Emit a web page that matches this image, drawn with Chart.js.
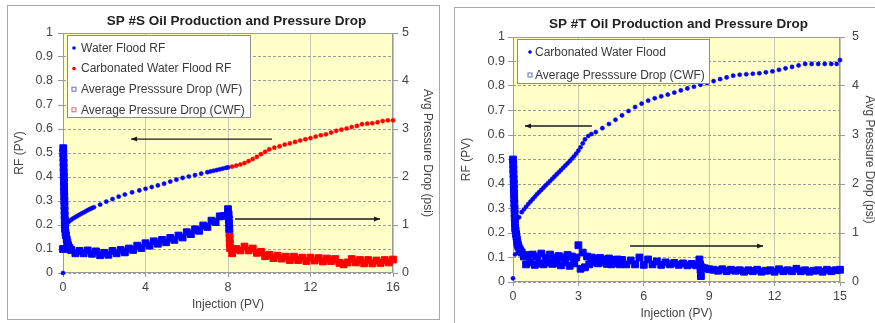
<!DOCTYPE html>
<html>
<head>
<meta charset="utf-8">
<script src="https://cdn.jsdelivr.net/npm/chart.js@4.4.1/dist/chart.umd.min.js"></script>
<style>
  body { margin: 0; background: #fff; width: 875px; height: 323px; overflow: hidden; position: relative; }
  .frame { position: absolute; border: 1px solid #a8a8a8; background: #fff; }
  #frameS { left: 7px; top: 5px; width: 431px; height: 313px; }
  #frameT { left: 454px; top: 7px; width: 430px; height: 317px; }
  canvas { display: block; }
</style>
</head>
<body>
<div class="frame" id="frameS"><canvas id="chartS" width="431" height="312"></canvas></div>
<div class="frame" id="frameT"><canvas id="chartT" width="426" height="317"></canvas></div>
<script>
// ---- SP #S ----
const wfRfX = [0, 0.1, 0.2, 0.3, 0.4, 0.5, 0.6, 0.7, 0.8, 0.9, 1.0, 1.1, 1.2, 1.3, 1.4, 1.5,
  1.8, 2.1, 2.4, 2.7, 3.0, 3.35, 3.7, 4.0, 4.3, 4.6, 4.9, 5.2, 5.5, 5.8, 6.1, 6.4, 6.7, 7.0,
  7.15, 7.3, 7.45, 7.6, 7.75, 7.9, 8.0];
const wfRfY = [0, 0.1, 0.207, 0.215, 0.222, 0.228, 0.233, 0.238, 0.243, 0.248, 0.252, 0.257, 0.262, 0.266, 0.270, 0.274,
  0.285, 0.297, 0.308, 0.318, 0.327, 0.336, 0.344, 0.351, 0.358, 0.365, 0.372, 0.381, 0.389, 0.396, 0.402, 0.408, 0.414, 0.42,
  0.423, 0.426, 0.429, 0.432, 0.435, 0.438, 0.44];

const cwfRfX = [8.2, 8.4, 8.6, 8.8, 9.0, 9.2, 9.4, 9.6, 9.8, 10.0, 10.25, 10.5, 10.75, 11.0, 11.25, 11.5, 11.75,
  12.0, 12.25, 12.5, 12.75, 13.0, 13.25, 13.5, 13.75, 14.0, 14.25, 14.5, 14.75, 15.0, 15.25, 15.5, 15.75, 16.0];
const cwfRfY = [0.443, 0.447, 0.452, 0.458, 0.466, 0.475, 0.484, 0.495, 0.505, 0.515, 0.522, 0.528, 0.535, 0.54, 0.546, 0.552, 0.557,
  0.562, 0.568, 0.574, 0.578, 0.585, 0.592, 0.597, 0.602, 0.608, 0.613, 0.62, 0.622, 0.624, 0.628, 0.633, 0.636, 0.636];

// pressure drop in psi (right axis)
const wfDpX = [0, 0.01, 0.015, 0.02, 0.025, 0.03, 0.035, 0.04, 0.045, 0.05, 0.055, 0.06, 0.065, 0.07, 0.075, 0.08, 0.085, 0.09,
  0.1, 0.12, 0.15, 0.18, 0.21, 0.25, 0.3, 0.35,
  0.4, 0.6, 0.8, 1.0, 1.2, 1.4, 1.6, 1.8, 2.0, 2.2, 2.4, 2.6, 2.8, 3.0, 3.2, 3.4, 3.6, 3.8, 4.0, 4.2,
  4.4, 4.6, 4.8, 5.0, 5.2, 5.4, 5.6, 5.8, 6.0, 6.2, 6.4, 6.6, 6.8, 7.0, 7.2, 7.4, 7.6, 7.8, 8.0,
  8.03, 8.04, 8.05, 8.06];
const wfDpY = [0.5, 2.6, 2.5, 2.4, 2.3, 2.2, 2.1, 2.0, 1.9, 1.8, 1.7, 1.6, 1.5, 1.4, 1.3, 1.2, 1.1, 1.0,
  0.92, 0.84, 0.78, 0.7, 0.64, 0.58, 0.53, 0.49,
  0.48, 0.41, 0.46, 0.41, 0.47, 0.40, 0.45, 0.37, 0.42, 0.38, 0.46, 0.41, 0.48, 0.43, 0.51, 0.48, 0.57, 0.52, 0.62, 0.57,
  0.66, 0.61, 0.69, 0.64, 0.73, 0.69, 0.78, 0.74, 0.85, 0.81, 0.91, 0.88, 0.99, 0.96, 1.09, 1.06, 1.18, 1.19, 1.33,
  1.22, 1.12, 1.02, 0.92];

const cwfDpX = [8.07, 8.08, 8.09, 8.1,
  8.2, 8.4, 8.6, 8.8, 9.0, 9.2, 9.4, 9.6, 9.8, 10.0, 10.2, 10.4, 10.6, 10.8, 11.0, 11.2, 11.4, 11.6, 11.8, 12.0,
  12.2, 12.4, 12.6, 12.8, 13.0, 13.2, 13.4, 13.6, 13.8, 14.0, 14.2, 14.4, 14.6, 14.8, 15.0, 15.2, 15.4, 15.6, 15.8, 16.0];
const cwfDpY = [0.82, 0.72, 0.62, 0.52,
  0.41, 0.5, 0.47, 0.55, 0.47, 0.51, 0.42, 0.44, 0.35, 0.38, 0.31, 0.36, 0.3, 0.34, 0.27, 0.34, 0.27, 0.32, 0.25, 0.32,
  0.26, 0.31, 0.24, 0.3, 0.25, 0.29, 0.21, 0.18, 0.22, 0.29, 0.22, 0.27, 0.2, 0.27, 0.2, 0.26, 0.21, 0.27, 0.22, 0.28];

// ---- SP #T ----
const tRfX = [0, 0.1, 0.28,
  0.4, 0.5, 0.6, 0.7, 0.8, 0.9, 1.0, 1.1, 1.2, 1.3, 1.4, 1.5, 1.6, 1.7, 1.8, 1.9, 2.0, 2.1, 2.2, 2.3, 2.4, 2.5,
  2.6, 2.7, 2.8, 2.9, 3.0, 3.1, 3.2, 3.3,
  3.45, 3.6, 3.8, 4.1, 4.4, 4.7, 5.0, 5.3, 5.6, 5.9, 6.2, 6.5, 6.8, 7.1, 7.4, 7.7, 8.0, 8.3, 8.6, 8.9, 9.2, 9.5,
  9.8, 10.1, 10.4, 10.7, 11.0, 11.3, 11.6, 11.9, 12.2, 12.5, 12.8, 13.1, 13.4, 13.7, 14.0, 14.3, 14.6, 14.85, 15.0];
const tRfY = [0.015, 0.113, 0.264,
  0.285, 0.296, 0.307, 0.318, 0.328, 0.338, 0.348, 0.358, 0.367, 0.376, 0.385, 0.394, 0.403, 0.412, 0.421, 0.43, 0.439, 0.448, 0.457, 0.466, 0.475, 0.484,
  0.493, 0.503, 0.513, 0.524, 0.536, 0.55, 0.566, 0.582,
  0.596, 0.604, 0.612, 0.628, 0.645, 0.662, 0.68, 0.698, 0.714, 0.728, 0.74, 0.75, 0.758, 0.765, 0.773, 0.782, 0.79, 0.797, 0.805, 0.812, 0.82, 0.828,
  0.835, 0.842, 0.846, 0.848, 0.85, 0.852, 0.856, 0.86, 0.866, 0.872, 0.878, 0.884, 0.89, 0.89, 0.89, 0.89, 0.89, 0.89, 0.906];

const tDpX = [0, 0.01, 0.015, 0.02, 0.03, 0.035, 0.04, 0.05, 0.055, 0.06, 0.07, 0.075, 0.08, 0.09, 0.1, 0.12,
  0.14, 0.16, 0.18, 0.2, 0.22, 0.25, 0.3, 0.35,
  0.4, 0.5, 0.6, 0.7, 0.8, 0.9, 1.0, 1.1, 1.2, 1.3,
  1.4, 1.5, 1.6, 1.7, 1.8, 1.9, 2.0, 2.1, 2.2, 2.3,
  2.4, 2.5, 2.6, 2.7, 2.8, 2.9, 3.0, 3.1, 3.2, 3.3,
  3.4, 3.5, 3.6, 3.7, 3.8, 3.9, 4.0, 4.1, 4.2, 4.3,
  4.4, 4.5, 4.6, 4.7, 4.8, 4.9, 5.0,
  5.2, 5.4, 5.6, 5.8, 6.0, 6.2, 6.4, 6.6, 6.8, 7.0, 7.2, 7.4, 7.6, 7.8, 8.0, 8.2, 8.4,
  8.55, 8.58, 8.6, 8.62, 8.65,
  8.8, 9.0, 9.2, 9.4, 9.6, 9.8, 10.0, 10.2, 10.4, 10.6, 10.8, 11.0, 11.2, 11.4, 11.6, 11.8,
  12.0, 12.2, 12.4, 12.6, 12.8, 13.0, 13.2, 13.4, 13.6, 13.8, 14.0, 14.2, 14.4, 14.6, 14.8, 15.0];
const tDpY = [2.5, 2.4, 2.3, 2.2, 2.1, 2.0, 1.9, 1.8, 1.7, 1.6, 1.5, 1.4, 1.3, 1.2, 1.1, 1.05,
  0.98, 0.92, 0.86, 0.8, 0.76, 0.72, 0.67, 0.63,
  0.6, 0.52, 0.36, 0.55, 0.4, 0.56, 0.35, 0.52, 0.38, 0.58,
  0.36, 0.5, 0.4, 0.56, 0.37, 0.5, 0.38, 0.53, 0.34, 0.5,
  0.4, 0.55, 0.33, 0.52, 0.38, 0.5, 0.75, 0.27, 0.6, 0.3,
  0.52, 0.36, 0.5, 0.4, 0.48, 0.38, 0.49, 0.4, 0.46, 0.37,
  0.48, 0.36, 0.45, 0.38, 0.46, 0.36, 0.45,
  0.36, 0.44, 0.36, 0.5, 0.35, 0.46, 0.36, 0.42, 0.35, 0.4, 0.36, 0.39, 0.35, 0.38, 0.34, 0.37, 0.34,
  0.46, 0.36, 0.25, 0.12, 0.3,
  0.28, 0.26, 0.25, 0.23, 0.26, 0.22, 0.25, 0.23, 0.24, 0.21, 0.24, 0.22, 0.25, 0.21, 0.23, 0.24,
  0.21, 0.26, 0.22, 0.24, 0.22, 0.27, 0.22, 0.24, 0.21, 0.23, 0.24, 0.21, 0.25, 0.22, 0.24, 0.25];

// arrows, in data units (x, RF)
const arrowsS = [[10.13, 0.558, 3.3, 0.558], [8.34, 0.225, 15.37, 0.225]];
const arrowsT = [[3.62, 0.637, 0.55, 0.637], [5.37, 0.147, 11.47, 0.147]];

const FONT = '"Liberation Sans", Arial, sans-serif';
const TXT = '#444';
const BLUE = '#0000ff';
const RED = '#ff0000';

function pts(xs, ys) {
  return xs.map((x, i) => ({ x: x, y: ys[i] }));
}

function dots(label, data, color) {
  return { label, data, yAxisID: 'y', showLine: false, clip: false,
    pointStyle: 'circle', pointRadius: 2.1, pointBorderWidth: 0.5,
    pointBackgroundColor: color, pointBorderColor: color };
}

function squares(label, data, color) {
  return { label, data, yAxisID: 'y2', showLine: false, clip: false,
    pointStyle: 'rect', pointRadius: 4.8, pointBorderWidth: 1,
    pointBackgroundColor: color, pointBorderColor: color };
}

function decor(cfg) {
  return {
    id: 'decor',
    beforeDraw(chart) {
      const { ctx, chartArea: a } = chart;
      ctx.save();
      ctx.fillStyle = '#FFFFC8';
      ctx.fillRect(a.left, a.top, a.right - a.left, a.bottom - a.top);
      ctx.restore();
    },
    beforeDatasetsDraw(chart) {
      const { ctx, chartArea: a } = chart;
      ctx.save();
      ctx.strokeStyle = '#9a9a9a';
      ctx.lineWidth = 1;
      ctx.strokeRect(a.left + 0.5, a.top + 0.5, a.right - a.left - 1, a.bottom - a.top - 1);
      ctx.restore();
    },
    afterDraw(chart) {
      const { ctx, chartArea: a, scales } = chart;
      ctx.save();
      // title
      ctx.fillStyle = '#222';
      ctx.font = 'bold 13.5px ' + FONT;
      ctx.textAlign = 'center';
      ctx.textBaseline = 'middle';
      ctx.fillText(cfg.title, cfg.titleX, cfg.titleY);

      // arrows
      ctx.strokeStyle = '#1a1a1a';
      ctx.fillStyle = '#1a1a1a';
      ctx.lineWidth = 1.4;
      cfg.arrows.forEach(([x1, y1, x2, y2]) => {
        const px1 = scales.x.getPixelForValue(x1), py1 = scales.y.getPixelForValue(y1);
        const px2 = scales.x.getPixelForValue(x2), py2 = scales.y.getPixelForValue(y2);
        const ang = Math.atan2(py2 - py1, px2 - px1);
        ctx.beginPath();
        ctx.moveTo(px1, py1);
        ctx.lineTo(px2, py2);
        ctx.stroke();
        ctx.beginPath();
        ctx.moveTo(px2, py2);
        ctx.lineTo(px2 - 6 * Math.cos(ang) + 2.5 * Math.sin(ang), py2 - 6 * Math.sin(ang) - 2.5 * Math.cos(ang));
        ctx.lineTo(px2 - 6 * Math.cos(ang) - 2.5 * Math.sin(ang), py2 - 6 * Math.sin(ang) + 2.5 * Math.cos(ang));
        ctx.closePath();
        ctx.fill();
      });

      // legend
      const L = cfg.legend;
      const bx = a.left + L.x, by = a.top + L.y;
      ctx.fillStyle = '#fff';
      ctx.fillRect(bx, by, L.w, L.h);
      ctx.strokeStyle = '#8c8c8c';
      ctx.lineWidth = 1;
      ctx.strokeRect(bx + 0.5, by + 0.5, L.w, L.h);
      ctx.font = '12px ' + FONT;
      ctx.textAlign = 'left';
      ctx.textBaseline = 'middle';
      L.items.forEach((it, i) => {
        const cy = by + L.first + i * L.step;
        const mx = a.left + L.mx;
        if (it.shape === 'dot') {
          ctx.fillStyle = it.color;
          ctx.beginPath();
          ctx.arc(mx, cy, 1.8, 0, Math.PI * 2);
          ctx.fill();
        } else {
          ctx.strokeStyle = it.color;
          ctx.strokeRect(mx - 2, cy - 2, 4, 4);
        }
        ctx.fillStyle = '#3a3a3a';
        ctx.fillText(it.text, a.left + L.tx, cy + 0.5);
      });
      ctx.restore();
    }
  };
}

function scalesFor(xMax, xStep, fit) {
  return {
    x: {
      type: 'linear', min: 0, max: xMax,
      ticks: { stepSize: xStep, color: TXT, font: { family: FONT, size: 12.5 }, padding: 3, maxRotation: 0 },
      grid: { color: '#c6c6b2', tickLength: 4, tickColor: '#999' },
      border: { display: false },
      title: { display: true, text: 'Injection (PV)', color: TXT, font: { family: FONT, size: 12 },
        padding: { top: 4, bottom: fit.xTitlePad } },
      afterFit: s => { s.height = fit.bottom; }
    },
    y: {
      min: 0, max: 1,
      ticks: { stepSize: 0.1, autoSkip: false, color: TXT, font: { family: FONT, size: 12.5 }, padding: fit.yPad,
        callback: v => String(Math.round(v * 10) / 10) },
      grid: { color: '#9c9c9c', tickLength: 5, tickColor: '#999' },
      border: { display: false, dash: [3, 2] },
      title: { display: true, text: 'RF (PV)', color: TXT, font: { family: FONT, size: 12 }, padding: { top: 4, bottom: 4 } },
      afterFit: s => { s.width = fit.left; }
    },
    y2: {
      position: 'right', min: 0, max: 5,
      ticks: { stepSize: 1, color: TXT, font: { family: FONT, size: 12.5 }, padding: fit.y2Pad },
      grid: { drawOnChartArea: false, tickLength: 5, tickColor: '#999' },
      border: { display: false },
      title: { display: true, text: 'Avg Pressure Drop (psi)', color: TXT, font: { family: FONT, size: 12 }, padding: { top: 4, bottom: 4 } },
      afterFit: s => { s.width = fit.right; }
    }
  };
}

const baseOptions = (layoutTop, scales) => ({
  responsive: false,
  animation: false,
  events: [],
  layout: { padding: { top: layoutTop, left: 0, right: 0, bottom: 0 } },
  plugins: { legend: { display: false }, title: { display: false }, tooltip: { enabled: false } },
  scales
});

new Chart(document.getElementById('chartS'), {
  type: 'scatter',
  data: {
    datasets: [
      dots('Water Flood RF', pts(wfRfX, wfRfY), BLUE),
      dots('Carbonated Water Flood RF', pts(cwfRfX, cwfRfY), RED),
      squares('Average Presssure Drop (WF)', pts(wfDpX, wfDpY), BLUE),
      squares('Average Pressure Drop (CWF)', pts(cwfDpX, cwfDpY), RED)
    ]
  },
  options: baseOptions(27, scalesFor(16, 4, { left: 55, right: 46, bottom: 45, xTitlePad: 6, yPad: 5, y2Pad: 4 })),
  plugins: [decor({
    title: 'SP #S Oil Production and Pressure Drop', titleX: 228.5, titleY: 15.5,
    arrows: arrowsS,
    legend: { x: 4, y: 2, w: 183, h: 82, first: 13, step: 20.6, mx: 11, tx: 18,
      items: [
        { text: 'Water Flood RF', shape: 'dot', color: BLUE },
        { text: 'Carbonated Water Flood RF', shape: 'dot', color: RED },
        { text: 'Average Presssure Drop (WF)', shape: 'square', color: '#6a6ac8' },
        { text: 'Average Pressure Drop (CWF)', shape: 'square', color: '#d46a6a' }
      ] }
  })]
});

new Chart(document.getElementById('chartT'), {
  type: 'scatter',
  data: {
    datasets: [
      dots('Carbonated Water Flood', pts(tRfX, tRfY), BLUE),
      squares('Average Presssure Drop (CWF)', pts(tDpX, tDpY), BLUE)
    ]
  },
  options: baseOptions(29, scalesFor(15, 3, { left: 58, right: 41, bottom: 43, xTitlePad: 4, yPad: 3, y2Pad: 7 })),
  plugins: [decor({
    title: 'SP #T Oil Production and Pressure Drop', titleX: 223.5, titleY: 16.5,
    arrows: arrowsT,
    legend: { x: 4, y: 2, w: 192, h: 44, first: 13, step: 23, mx: 17, tx: 22,
      items: [
        { text: 'Carbonated Water Flood', shape: 'dot', color: BLUE },
        { text: 'Average Presssure Drop (CWF)', shape: 'square', color: '#6a6ac8' }
      ] }
  })]
});
</script>
</body>
</html>
